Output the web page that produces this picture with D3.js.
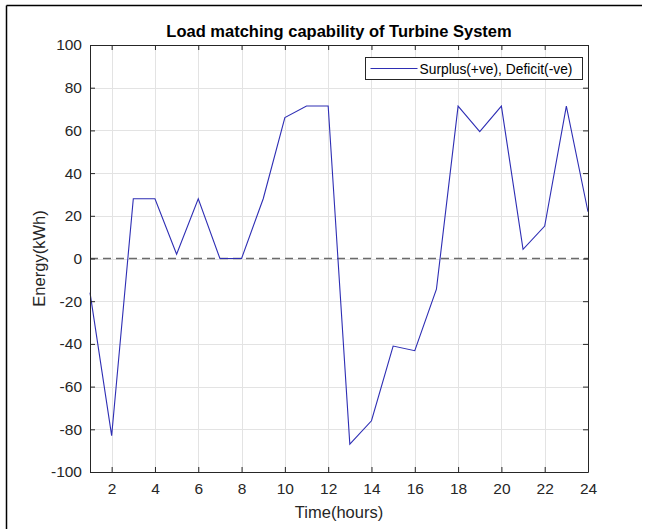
<!DOCTYPE html>
<html>
<head>
<meta charset="utf-8">
<script src="https://cdn.jsdelivr.net/npm/d3@7"></script>
<style>
  body { margin: 0; background: #fff; }
  svg { display: block; font-family: "Liberation Sans", Arial, sans-serif; }
</style>
</head>
<body>
<svg id="chart" width="646" height="529"></svg>
<script>
var hours = [1,2,3,4,5,6,7,8,9,10,11,12,13,14,15,16,17,18,19,20,21,22,23,24];
var energy = [-16,-83,28,28,2,28,0,0,28,66,71.4,71.4,-87,-76,-41,-43.2,-14.4,71.4,59.4,71.4,4.3,15.2,71.4,21.9];
var xTicks = [2,4,6,8,10,12,14,16,18,20,22,24];
var yTicks = [-100,-80,-60,-40,-20,0,20,40,60,80,100];
var title = "Load matching capability of Turbine System";
var legendLabel = "Surplus(+ve), Deficit(-ve)";

var margin = {l: 90, t: 45, r: 58, b: 57};
var svg = d3.select("#chart");
var W = +svg.attr("width"), H = +svg.attr("height");
var w = W - margin.l - margin.r, h = H - margin.t - margin.b;

// cropped figure border (top + left only)
svg.append("line").attr("x1", 6.5).attr("x2", 642).attr("y1", 5.5).attr("y2", 5.5)
  .attr("stroke", "#000").attr("stroke-width", 1.5);
svg.append("line").attr("x1", 6.5).attr("x2", 6.5).attr("y1", 5.5).attr("y2", H)
  .attr("stroke", "#000").attr("stroke-width", 1.5);

var x = d3.scaleLinear().domain([1, 24]).range([0, w]);
var y = d3.scaleLinear().domain([-100, 100]).range([h, 0]);
var plainNum = function(d){ return String(d); };

var plot = svg.append("g").attr("transform", "translate(" + margin.l + "," + margin.t + ")");

// grid
plot.append("g").selectAll("line").data(xTicks).enter().append("line")
  .attr("x1", function(d){ return Math.round(x(d)) + 0.5; })
  .attr("x2", function(d){ return Math.round(x(d)) + 0.5; })
  .attr("y1", 0).attr("y2", h)
  .attr("stroke", "#e3e3e3");
plot.append("g").selectAll("line").data(yTicks).enter().append("line")
  .attr("y1", function(d){ return Math.round(y(d)) + 0.5; })
  .attr("y2", function(d){ return Math.round(y(d)) + 0.5; })
  .attr("x1", 0).attr("x2", w)
  .attr("stroke", "#e3e3e3");

// zero reference
plot.append("line")
  .attr("x1", 0).attr("x2", w)
  .attr("y1", y(0)).attr("y2", y(0))
  .attr("stroke", "#6b6b6b").attr("stroke-width", 1.6)
  .attr("stroke-dasharray", "8,5");

// data line
var line = d3.line()
  .x(function(d, i){ return x(hours[i]); })
  .y(function(d){ return y(d); });
plot.append("path").datum(energy)
  .attr("d", line)
  .attr("fill", "none")
  .attr("stroke", "#2e2eb4")
  .attr("stroke-width", 1.1);

// axes, ticks inward on every side
var axisColor = "#262626";
var axBottom = plot.append("g").attr("transform", "translate(0," + h + ")")
  .call(d3.axisBottom(x).tickValues(xTicks).tickFormat(plainNum).tickSizeInner(-5).tickSizeOuter(0).tickPadding(11));
var axLeft = plot.append("g")
  .call(d3.axisLeft(y).tickValues(yTicks).tickFormat(plainNum).tickSizeInner(-5).tickSizeOuter(0).tickPadding(8));
var axTop = plot.append("g")
  .call(d3.axisTop(x).tickValues(xTicks).tickSizeInner(-5).tickSizeOuter(0).tickFormat(""));
var axRight = plot.append("g").attr("transform", "translate(" + w + ",0)")
  .call(d3.axisRight(y).tickValues(yTicks).tickSizeInner(-5).tickSizeOuter(0).tickFormat(""));

[axBottom, axLeft, axTop, axRight].forEach(function(a){
  a.select(".domain").attr("stroke", axisColor);
  a.selectAll(".tick line").attr("stroke", axisColor);
  a.selectAll("text").attr("fill", axisColor)
    .style("font-family", "Liberation Sans, Arial, sans-serif")
    .style("font-size", "15.5px");
});
axBottom.selectAll("text").attr("dy", "0.71em");

// title and labels
svg.append("text")
  .attr("x", margin.l + w / 2).attr("y", 37)
  .attr("text-anchor", "middle")
  .style("font-weight", "bold").style("font-size", "16.5px")
  .attr("fill", "#000")
  .text(title);
svg.append("text")
  .attr("x", margin.l + w / 2).attr("y", 518)
  .attr("text-anchor", "middle")
  .style("font-size", "16.5px").attr("fill", axisColor)
  .text("Time(hours)");
svg.append("text")
  .attr("transform", "translate(45," + (margin.t + h / 2) + ") rotate(-90)")
  .attr("text-anchor", "middle")
  .style("font-size", "16.5px").attr("fill", axisColor)
  .text("Energy(kWh)");

// legend
var lg = svg.append("g").attr("transform", "translate(365.5,57.5)");
lg.append("rect").attr("width", 217).attr("height", 22)
  .attr("fill", "#fff").attr("stroke", "#262626");
lg.append("line").attr("x1", 5).attr("x2", 52).attr("y1", 11).attr("y2", 11)
  .attr("stroke", "#2e2eb4").attr("stroke-width", 1.1);
lg.append("text").attr("x", 54).attr("y", 16)
  .style("font-size", "13.8px").attr("fill", "#000")
  .text(legendLabel);
</script>
</body>
</html>
